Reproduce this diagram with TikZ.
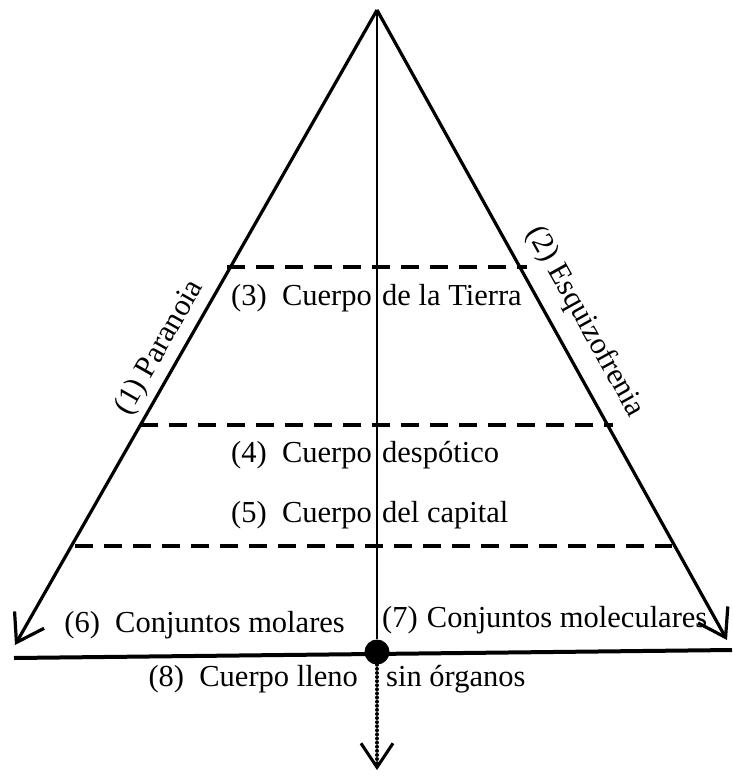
\documentclass[tikz,border=0pt]{standalone}
\usepackage{fontspec}
\setmainfont{Liberation Serif}
\usetikzlibrary{arrows.meta}
\begin{document}
\begin{tikzpicture}[x=1pt,y=-1pt,
  side/.style={line width=3.2pt, -{Straight Barb[length=26pt,width=34pt,line width=3.2pt]}},
  level/.style={line width=3.6pt, dash pattern=on 18pt off 11pt},
  lbl/.style={inner sep=0pt, font=\fontsize{30.5}{32}\selectfont},
]
\useasboundingbox (0,0) rectangle (732,776);
\coordinate (apex) at (377,10);
\coordinate (leftTip) at (15,645);
\coordinate (rightTip) at (727,640);
\coordinate (baseL) at (14,658);
\coordinate (baseR) at (732,650);
\coordinate (bottomTip) at (377,770);
\coordinate (l1a) at (227,267); \coordinate (l1b) at (527,267);
\coordinate (l2a) at (140,425); \coordinate (l2b) at (613,425);
\coordinate (l3a) at (75,546);  \coordinate (l3b) at (672,546);

% sides
\draw[side] (apex) -- (leftTip);
\draw[side] (apex) -- (rightTip);
% levels
\draw[level] (l1a) -- (l1b);
\draw[level] (l2a) -- (l2b);
\draw[level] (l3a) -- (l3b);
% base
\draw[line width=4pt] (baseL) -- (baseR);
% dot and axis
\node[circle, fill, inner sep=0pt, minimum size=25pt] (dot) at (377,652) {};
\draw[line width=2.6pt] (apex) -- (dot);
\draw[line width=3.8pt, line cap=round, dash pattern=on 0.1pt off 4pt,
  -{Straight Barb[length=24pt,width=32pt,line width=3pt]}] (dot) -- (bottomTip);

% labels
\node[lbl, rotate=60.3] (para) at (160,348) {(1) Paranoia};
\node[lbl, rotate=-60.9] (esq) at (585,322) {(2) Esquizofrenia};

\node[lbl, anchor=base east] (t3a) at (372,305) {(3)\ \ Cuerpo};
\node[lbl, anchor=base west] (t3b) at (382,305) {de la Tierra};
\node[lbl, anchor=base east] (t4a) at (372,462) {(4)\ \ Cuerpo};
\node[lbl, anchor=base west] (t4b) at (382,462) {despótico};
\node[lbl, anchor=base east] (t5a) at (372,522) {(5)\ \ Cuerpo};
\node[lbl, anchor=base west] (t5b) at (382,522) {del capital};
\node[lbl, anchor=base east] (t6) at (345,632) {(6)\ \ Conjuntos molares};
\node[lbl, anchor=base west] (t7) at (382,627) {(7)\hspace{0.3em}Conjuntos moleculares};
\node[lbl, anchor=base east] (t8a) at (358,686) {(8)\ \ Cuerpo lleno};
\node[lbl, anchor=base west] (t8b) at (386,686) {sin órganos};
\end{tikzpicture}
\end{document}
